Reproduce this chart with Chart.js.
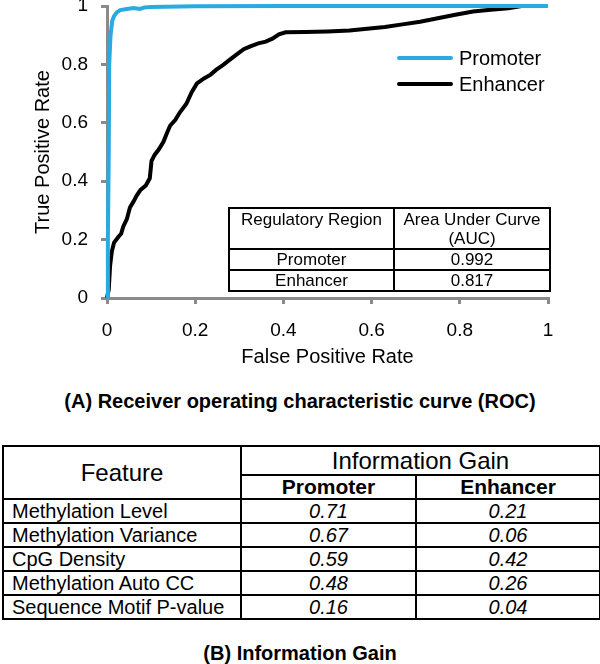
<!DOCTYPE html>
<html>
<head>
<meta charset="utf-8">
<script src="https://cdn.jsdelivr.net/npm/chart.js@4"></script>
<style>
  body { margin: 0; background: #fff; font-family: "Liberation Sans", Arial, sans-serif; }
  #page { position: relative; width: 600px; height: 664px; overflow: hidden; }
  #rocBox { position: absolute; left: 0; top: 0; width: 600px; height: 375px; }
  table { border-collapse: collapse; table-layout: fixed; position: absolute; }
  td, th { border: 2px solid #000; padding: 0; overflow: hidden; white-space: nowrap; }
  #aucTable { left: 228px; top: 207px; width: 321px; font-size: 17px; line-height: 19px; }
  #aucTable td { text-align: center; }
  #aucTable .head td { vertical-align: top; height: 38px; padding-top: 1px; }
  #aucTable .row td { height: 18px; }
  #gainTable { left: 2px; top: 445px; width: 597px; font-size: 20px; line-height: 22px; }
  #gainTable .h1 td { height: 27px; font-size: 24px; text-align: center; }
  #gainTable .h2 td { height: 22px; font-weight: bold; font-size: 21px; text-align: center; }
  #gainTable .row td { height: 22px; }
  #gainTable .row td.name { text-align: left; padding-left: 8px; }
  #gainTable .row td.val { text-align: center; font-style: italic; }
  .caption { position: absolute; left: 0; width: 600px; text-align: center; font-weight: bold; font-size: 20px; line-height: 24px; }
</style>
</head>
<body>
<div id="page">
  <div id="rocBox"><canvas id="rocChart" width="600" height="375"></canvas></div>
  <table id="aucTable"></table>
  <div class="caption" style="top:389px">(A) Receiver operating characteristic curve (ROC)</div>
  <table id="gainTable"></table>
  <div class="caption" style="top:641px">(B) Information Gain</div>
</div>
<script>
// ROC curve points (false positive rate, true positive rate)
const promoterFpr = [0, 0.002, 0.004, 0.005, 0.008, 0.012, 0.016, 0.022, 0.03, 0.045, 0.06, 0.075, 0.085, 0.1, 0.2, 0.4, 1];
const promoterTpr = [0, 0.2, 0.5, 0.8, 0.9, 0.95, 0.965, 0.978, 0.986, 0.99, 0.993, 0.99, 0.995, 0.997, 0.999, 1, 1];

const enhancerFpr = [0, 0.004, 0.007, 0.011, 0.016, 0.026, 0.032, 0.037, 0.045, 0.052, 0.06, 0.067, 0.076, 0.088, 0.097,
  0.101, 0.108, 0.118, 0.128, 0.136, 0.143, 0.155, 0.165, 0.18, 0.192, 0.204, 0.22, 0.235, 0.248, 0.262, 0.275,
  0.292, 0.31, 0.325, 0.343, 0.36, 0.375, 0.39, 0.405, 0.45, 0.5, 0.55, 0.59, 0.63, 0.67, 0.71, 0.75, 0.79, 0.83,
  0.87, 0.91, 0.94, 1];
const enhancerTpr = [0, 0.03, 0.11, 0.16, 0.19, 0.21, 0.22, 0.245, 0.27, 0.31, 0.33, 0.35, 0.37, 0.385, 0.41,
  0.47, 0.49, 0.51, 0.535, 0.565, 0.59, 0.61, 0.635, 0.665, 0.705, 0.735, 0.752, 0.765, 0.782, 0.797, 0.812,
  0.832, 0.852, 0.862, 0.872, 0.878, 0.888, 0.903, 0.91, 0.911, 0.913, 0.916, 0.922, 0.928, 0.937, 0.946, 0.958,
  0.97, 0.981, 0.987, 0.992, 1, 1];

const axisTicks = [0, 0.2, 0.4, 0.6, 0.8, 1];
const axisTickLabels = ['0', '0.2', '0.4', '0.6', '0.8', '1'];

// Inset AUC table
const regionNames = ['Promoter', 'Enhancer'];
const aucValues = ['0.992', '0.817'];

// Information gain table
const featureNames = ['Methylation Level', 'Methylation Variance', 'CpG Density', 'Methylation Auto CC', 'Sequence Motif P-value'];
const promoterGain = ['0.71', '0.67', '0.59', '0.48', '0.16'];
const enhancerGain = ['0.21', '0.06', '0.42', '0.26', '0.04'];

const FONT = '"Liberation Sans", Arial, sans-serif';
const AXIS_GRAY = '#8a8a8a';

function toPoints(xs, ys) {
    return xs.map((x, i) => ({ x: x, y: ys[i] }));
}

// legend drawn inside the plot, line swatch + label
const insideLegend = {
    id: 'insideLegend',
    afterDraw(chart) {
        const ctx = chart.ctx;
        ctx.save();
        ctx.font = '20px ' + FONT;
        ctx.textBaseline = 'middle';
        ctx.fillStyle = '#000';
        ctx.lineCap = 'round';
        chart.data.datasets.forEach((ds, i) => {
            const y = 58 + i * 26;
            ctx.strokeStyle = ds.borderColor;
            ctx.lineWidth = 4;
            ctx.beginPath();
            ctx.moveTo(399, y);
            ctx.lineTo(451, y);
            ctx.stroke();
            ctx.fillText(ds.label, 459, y + 1);
        });
        ctx.restore();
    }
};

const axisCommon = {
    type: 'linear',
    min: 0,
    max: 1,
    afterBuildTicks: (scale) => { scale.ticks = axisTicks.map(v => ({ value: v })); },
    grid: { drawOnChartArea: false, drawTicks: true, tickLength: 6, color: AXIS_GRAY, lineWidth: 3 },
    border: { display: true, color: AXIS_GRAY, width: 3 },
};

function tickLabel(value) {
    const i = axisTicks.indexOf(value);
    return i >= 0 ? axisTickLabels[i] : '';
}

new Chart(document.getElementById('rocChart').getContext('2d'), {
    type: 'line',
    data: {
        datasets: [
            {
                label: 'Promoter',
                data: toPoints(promoterFpr, promoterTpr),
                borderColor: '#29abe2',
                borderWidth: 4,
                pointRadius: 0,
                tension: 0,
                clip: false
            },
            {
                label: 'Enhancer',
                data: toPoints(enhancerFpr, enhancerTpr),
                borderColor: '#000000',
                borderWidth: 4,
                pointRadius: 0,
                tension: 0,
                clip: false
            }
        ]
    },
    options: {
        responsive: false,
        animation: false,
        layout: { padding: { top: 6, right: 52, left: 0, bottom: 0 } },
        plugins: { legend: { display: false }, tooltip: { enabled: false } },
        scales: {
            x: Object.assign({}, axisCommon, {
                ticks: { color: '#000', font: { family: FONT, size: 19 }, padding: 15, maxRotation: 0, callback: tickLabel },
                title: { display: true, text: 'False Positive Rate', color: '#000', font: { family: FONT, size: 20 }, padding: { top: 0, bottom: 6 } },
                afterFit: (scale) => { scale.height = 77; scale.paddingLeft = 0; scale.paddingRight = 0; }
            }),
            y: Object.assign({}, axisCommon, {
                ticks: { color: '#000', font: { family: FONT, size: 19 }, padding: 13, callback: tickLabel },
                title: { display: true, text: 'True Positive Rate', color: '#000', font: { family: FONT, size: 20 }, padding: { top: 31, bottom: 0 } },
                afterFit: (scale) => { scale.width = 107; scale.paddingTop = 0; scale.paddingBottom = 0; }
            })
        }
    },
    plugins: [insideLegend]
});

// build the inset AUC table
const aucTable = document.getElementById('aucTable');
let aucHtml = '<colgroup><col style="width:165px"><col style="width:156px"></colgroup>';
aucHtml += '<tr class="head"><td>Regulatory Region</td><td>Area Under Curve<br>(AUC)</td></tr>';
regionNames.forEach((name, i) => {
    aucHtml += '<tr class="row"><td>' + name + '</td><td>' + aucValues[i] + '</td></tr>';
});
aucTable.innerHTML = aucHtml;

// build the information gain table
const gainTable = document.getElementById('gainTable');
let gainHtml = '<colgroup><col style="width:238px"><col style="width:175px"><col style="width:184px"></colgroup>';
gainHtml += '<tr class="h1"><td rowspan="2">Feature</td><td colspan="2">Information Gain</td></tr>';
gainHtml += '<tr class="h2"><td>' + regionNames[0] + '</td><td>' + regionNames[1] + '</td></tr>';
featureNames.forEach((name, i) => {
    gainHtml += '<tr class="row"><td class="name">' + name + '</td><td class="val">' + promoterGain[i] +
        '</td><td class="val">' + enhancerGain[i] + '</td></tr>';
});
gainTable.innerHTML = gainHtml;
</script>
</body>
</html>
